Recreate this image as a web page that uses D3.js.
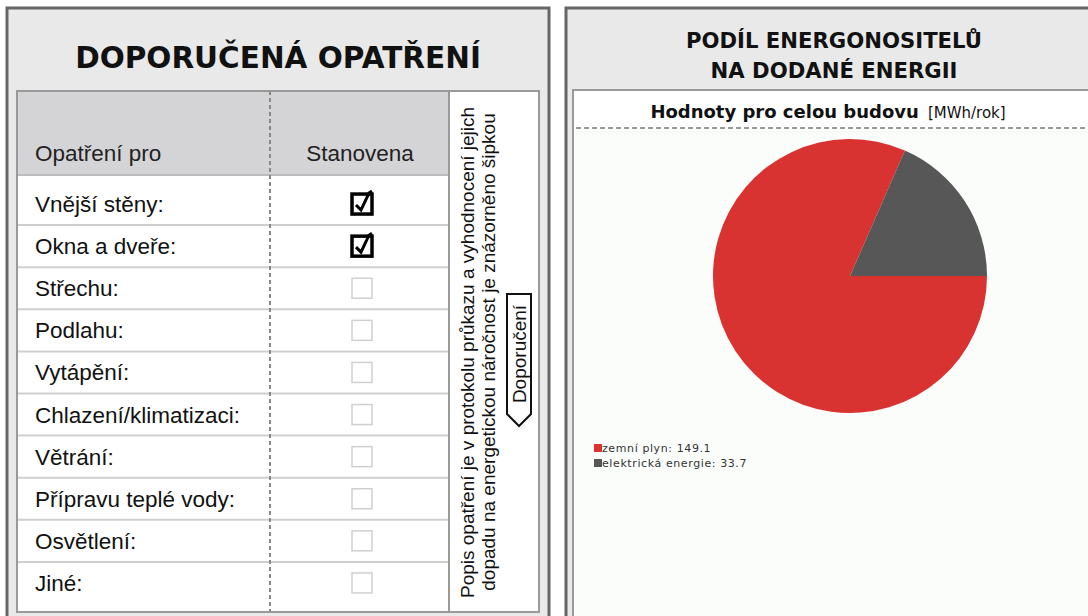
<!DOCTYPE html>
<html><head><meta charset="utf-8">
<script src="https://cdn.jsdelivr.net/npm/d3@7"></script>
<style>html,body{margin:0;padding:0;background:#fff;}svg{display:block;}</style>
</head><body>
<svg id="c" width="1088" height="616"></svg>
<script>
const leftTitle = "DOPORUČENÁ OPATŘENÍ";
const headerCols = ["Opatření pro", "Stanovena"];
const measures = ["Vnější stěny:", "Okna a dveře:", "Střechu:", "Podlahu:", "Vytápění:", "Chlazení/klimatizaci:", "Větrání:", "Přípravu teplé vody:", "Osvětlení:", "Jiné:"];
const checked = [true, true, false, false, false, false, false, false, false, false];
const sideNote = ["Popis opatření je v protokolu průkazu a vyhodnocení jejich", "dopadu na energetickou náročnost je znázorněno šipkou"];
const arrowLabel = "Doporučení";
const rightTitle = ["PODÍL ENERGONOSITELŮ", "NA DODANÉ ENERGII"];
const subTitle = "Hodnoty pro celou budovu";
const unit = "[MWh/rok]";
const carriers = ["zemní plyn", "elektrická energie"];
const values = [149.1, 33.7];
const colors = ["#d83331", "#575757"];

const svg = d3.select("#c");

// ---------- LEFT PANEL ----------
const L = {x:7, y:8, w:542, h:620};
svg.append("rect").attr("x",L.x).attr("y",L.y).attr("width",L.w).attr("height",L.h)
  .attr("fill","#e9e9e9").attr("stroke","#666").attr("stroke-width",3);
svg.append("text").attr("x",278).attr("y",68).attr("text-anchor","middle")
  .attr("font-family","DejaVu Sans").attr("font-weight","bold").attr("font-size",29.5)
  .attr("fill","#111").text(leftTitle);

const T = {x:17, y:91, r:539, b:612};
const colX = [T.x, 270, 449, T.r];
svg.append("rect").attr("x",T.x).attr("y",T.y).attr("width",T.r-T.x).attr("height",T.b-T.y)
  .attr("fill","#fff");
svg.append("rect").attr("x",T.x).attr("y",T.y).attr("width",colX[2]-T.x).attr("height",175-T.y)
  .attr("fill","#d4d4d6");

const y = d3.scaleBand().domain(measures).range([183, 604]).padding(0);
svg.append("g").selectAll("line").data(measures.slice(1)).join("line")
  .attr("x1",T.x).attr("x2",colX[2]).attr("y1",d=>y(d)).attr("y2",d=>y(d))
  .attr("stroke","#cfcfcf").attr("stroke-width",2);
svg.append("line").attr("x1",T.x).attr("x2",colX[2]).attr("y1",175).attr("y2",175)
  .attr("stroke","#bdbdbd").attr("stroke-width",2);
svg.append("line").attr("x1",colX[1]).attr("x2",colX[1]).attr("y1",T.y).attr("y2",T.b)
  .attr("stroke","#888").attr("stroke-width",2).attr("stroke-dasharray","4,3");
svg.append("line").attr("x1",colX[2]).attr("x2",colX[2]).attr("y1",T.y).attr("y2",T.b)
  .attr("stroke","#999").attr("stroke-width",2);
svg.append("rect").attr("x",T.x).attr("y",T.y).attr("width",T.r-T.x).attr("height",T.b-T.y)
  .attr("fill","none").attr("stroke","#999").attr("stroke-width",2);

// header texts
svg.append("text").attr("x",35).attr("y",161).attr("font-family","Liberation Sans")
  .attr("font-size",22.5).attr("fill","#222").text(headerCols[0]);
svg.append("text").attr("x",360).attr("y",161).attr("text-anchor","middle").attr("font-family","Liberation Sans")
  .attr("font-size",22.5).attr("fill","#222").text(headerCols[1]);

// row labels
svg.append("g").selectAll("text").data(measures).join("text")
  .attr("x",35).attr("y",d=>y(d)+y.bandwidth()/2+8).attr("font-family","Liberation Sans")
  .attr("font-size",22.5).attr("fill","#111").text(d=>d);

// checkboxes
const cb = svg.append("g").selectAll("g").data(measures).join("g")
  .attr("transform",d=>`translate(362,${y(d)+y.bandwidth()/2})`);
cb.append("rect").attr("x",-10).attr("y",-10).attr("width",20).attr("height",20)
  .attr("fill","none")
  .attr("stroke",(d,i)=>checked[i]?"#000":"#d0d0d0")
  .attr("stroke-width",(d,i)=>checked[i]?3.5:1.5);
cb.filter((d,i)=>checked[i]).append("path")
  .attr("d","M-6,1 L-1,6 L7,-11 L10,-13")
  .attr("fill","none").attr("stroke","#000").attr("stroke-width",3).attr("stroke-linejoin","miter");

// rotated side note
svg.append("g").selectAll("text").data(sideNote).join("text")
  .attr("transform",(d,i)=>`translate(${474+i*21},${598}) rotate(-90)`)
  .attr("font-family","Liberation Sans").attr("font-size",19).attr("fill","#111")
  .attr("text-anchor",(d,i)=>i===0?"start":"middle")
  .attr("dx",(d,i)=>i===0?0:246)
  .text(d=>d);

// arrow
const ax=507, aw=24, at=294, ab=414;
svg.append("path")
  .attr("d",`M${ax},${at} L${ax+aw},${at} L${ax+aw},${ab} L${ax+aw/2},${ab+12} L${ax},${ab} Z`)
  .attr("fill","#fff").attr("stroke","#111").attr("stroke-width",2);
svg.append("text").attr("transform",`translate(${ax+aw/2+7},${(at+ab)/2}) rotate(-90)`)
  .attr("text-anchor","middle").attr("font-family","Liberation Sans").attr("font-size",19)
  .attr("fill","#111").text(arrowLabel);

// ---------- RIGHT PANEL ----------
const R = {x:566, y:8, w:540, h:620};
svg.append("rect").attr("x",R.x).attr("y",R.y).attr("width",R.w).attr("height",R.h)
  .attr("fill","#e9e9e9").attr("stroke","#666").attr("stroke-width",3);
svg.append("g").selectAll("text").data(rightTitle).join("text")
  .attr("x",834).attr("y",(d,i)=>48+i*30).attr("text-anchor","middle")
  .attr("font-family","DejaVu Sans").attr("font-weight","bold").attr("font-size",21.2)
  .attr("fill","#111").text(d=>d);
svg.append("rect").attr("x",573).attr("y",90).attr("width",540).attr("height",540)
  .attr("fill","#fff").attr("stroke","#999").attr("stroke-width",2);
svg.append("rect").attr("x",574).attr("y",129).attr("width",520).attr("height",500)
  .attr("fill","#fbfdfb");
const st = svg.append("text").attr("x",828).attr("y",118).attr("text-anchor","middle")
  .attr("font-family","DejaVu Sans").attr("fill","#111");
st.append("tspan").attr("font-weight","bold").attr("font-size",18).text(subTitle);
st.append("tspan").attr("font-size",15).attr("dx",9).text(unit);
svg.append("line").attr("x1",576).attr("x2",1088).attr("y1",128).attr("y2",128)
  .attr("stroke","#999").attr("stroke-width",2).attr("stroke-dasharray","5,3");

// pie
const pie = d3.pie().sort(null).startAngle(Math.PI/2).endAngle(Math.PI/2 + 2*Math.PI);
const arc = d3.arc().innerRadius(0).outerRadius(137);
svg.append("g").attr("transform","translate(850,276)")
  .selectAll("path").data(pie(values)).join("path")
  .attr("d",arc).attr("fill",(d,i)=>colors[i]);

// legend
const lg = svg.append("g").selectAll("g").data(carriers).join("g")
  .attr("transform",(d,i)=>`translate(594,${448+i*15})`);
lg.append("rect").attr("x",0).attr("y",-4).attr("width",8).attr("height",8)
  .attr("fill",(d,i)=>colors[i]);
lg.append("text").attr("x",8).attr("y",4).attr("font-family","DejaVu Sans").attr("font-size",11)
  .attr("letter-spacing",0.6).attr("fill","#333").text((d,i)=>`${d}: ${values[i]}`);
</script>
</body></html>
